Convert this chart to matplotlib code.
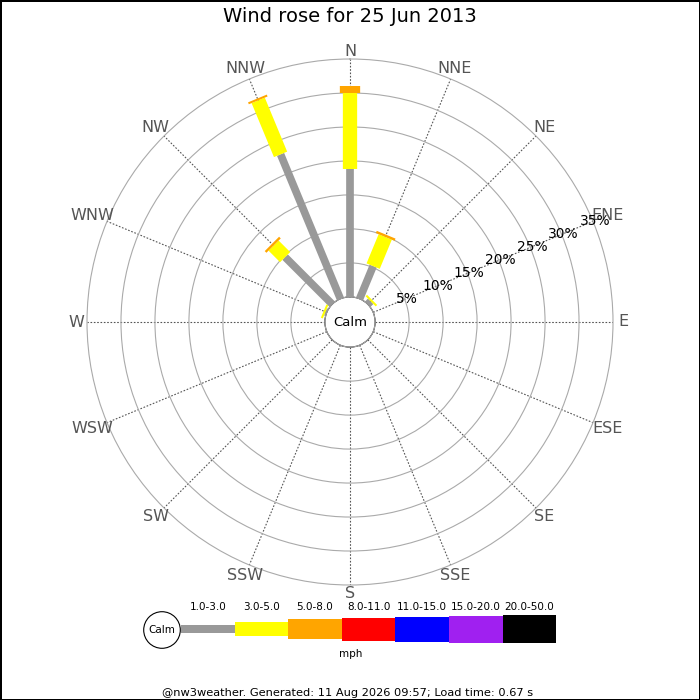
import numpy as np
import matplotlib
matplotlib.use('Agg')
import matplotlib.pyplot as plt

# --------------------------
# Data (percent of time, per direction and speed band)
# --------------------------
directions = ['N', 'NNE', 'NE', 'ENE', 'E', 'ESE', 'SE', 'SSE',
              'S', 'SSW', 'SW', 'WSW', 'W', 'WNW', 'NW', 'NNW']
speed_bands = ['1.0-3.0', '3.0-5.0', '5.0-8.0', '8.0-11.0',
               '11.0-15.0', '15.0-20.0', '20.0-50.0']
band_colors = ['#999999', '#ffff00', '#ffa500', '#ff0000',
               '#0000ff', '#a020f0', '#000000']
band_px = [7.7, 14.3, 20.3, 23.0, 25.0, 27.0, 28.5]  # bar thickness in pixels

band_1_3 = [18.8, 5.2, 0.6, 0, 0, 0, 0, 0, 0, 0, 0, 0, 0, 0.2, 9.8, 23.0]
band_3_5 = [11.2, 4.65, 0.3, 0, 0, 0, 0, 0, 0, 0, 0, 0, 0, 0.3, 2.4, 8.6]
band_5_8 = [1.1, 0.35, 0, 0, 0, 0, 0, 0, 0, 0, 0, 0, 0, 0, 0.35, 0.3]
bands = [band_1_3, band_3_5, band_5_8]

ring_pcts = [5, 10, 15, 20, 25, 30, 35]
calm_r = 3.7  # calm circle radius in % units
title = 'Wind rose for 25 Jun 2013'
footer = '@nw3weather. Generated: 11 Aug 2026 09:57; Load time: 0.67 s'

# --------------------------
# Figure
# --------------------------
W = H = 700
fig = plt.figure(figsize=(7, 7), dpi=100)
fig.patch.set_facecolor('white')
fig.patch.set_edgecolor('black')
fig.patch.set_linewidth(2)

cx, cy, R = 350, 322, 263
ax = fig.add_axes([(cx - R) / W, (H - cy - R) / H, 2 * R / W, 2 * R / H],
                  projection='polar')
ax.set_theta_zero_location('N')
ax.set_theta_direction(-1)
ax.set_ylim(0, 35)
ax.set_rorigin(-calm_r)
px_per_pct = R / (35 + calm_r)

angles = np.arange(16) * 22.5
ax.set_thetagrids(angles, labels=[''] * 16)
ax.set_rgrids(ring_pcts[:-1], labels=[''] * (len(ring_pcts) - 1))
ax.xaxis.grid(True, color='#555555', lw=0.8, ls=(0, (1.5, 1.5)))
ax.yaxis.grid(True, color='#aaaaaa', lw=0.8, ls='-')
ax.spines['polar'].set_color('#aaaaaa')
ax.spines['polar'].set_linewidth(0.8)
ax.tick_params(length=0)

# calm circle
t = np.linspace(0, 2 * np.pi, 300)
ax.plot(t, np.zeros_like(t), color='#aaaaaa', lw=0.8, clip_on=False, zorder=3)
ax.text(0.5, 0.5, 'Calm', transform=ax.transAxes, ha='center', va='center',
        fontsize=9.5)

# stacked bars as thick radial lines
theta = np.deg2rad(angles)
cum = np.zeros(16)
for i, vals in enumerate(bands):
    vals = np.array(vals)
    for k in range(16):
        if vals[k] <= 0:
            continue
        ax.plot([theta[k], theta[k]], [cum[k], cum[k] + vals[k]],
                color=band_colors[i], lw=band_px[i] * 72 / 100,
                solid_capstyle='butt', zorder=4)
    cum += vals

# direction labels, pushed out a little more for wide labels on the sides
for k, name in enumerate(directions):
    r_px = 271 + 0.5 * len(name) * 5.5 * abs(np.sin(theta[k]))
    ax.text(theta[k], r_px / px_per_pct - calm_r, name, ha='center',
            va='center', fontsize=11.5, color='#555555')

# percentage labels along ENE
for p in ring_pcts:
    ax.text(np.deg2rad(67.5), p + 0.3, f'{p}%', ha='center', va='center',
            fontsize=10, color='black', zorder=5)

# --------------------------
# Legend / text overlay in pixel coordinates
# --------------------------
ov = fig.add_axes([0, 0, 1, 1])
ov.set_xlim(0, W)
ov.set_ylim(H, 0)
ov.axis('off')
ov.patch.set_alpha(0)

fig.text(0.5, 1 - 17 / H, title, ha='center', va='center', fontsize=14)

leg_y = 629
seg = 53.6
x0 = 181
lefts = [x0 + i * seg for i in range(len(speed_bands))]
ov.barh([leg_y] * len(speed_bands), [seg] * len(speed_bands), left=lefts,
        height=band_px, color=band_colors, linewidth=0)
for i, lab in enumerate(speed_bands):
    ov.text(lefts[i] + seg / 2, 607, lab, ha='center', va='center', fontsize=7.5)
ov.add_patch(plt.Circle((162, 630), 18.3, facecolor='white',
                        edgecolor='black', lw=0.8, zorder=3))
ov.text(162, 630, 'Calm', ha='center', va='center', fontsize=7.5, zorder=4)
ov.text(351, 654, 'mph', ha='center', va='center', fontsize=7.5)
ov.text(348, 693, footer, ha='center', va='center', fontsize=8.2)

fig.savefig('out.png', dpi=100, facecolor=fig.get_facecolor(),
            edgecolor=fig.get_edgecolor())
